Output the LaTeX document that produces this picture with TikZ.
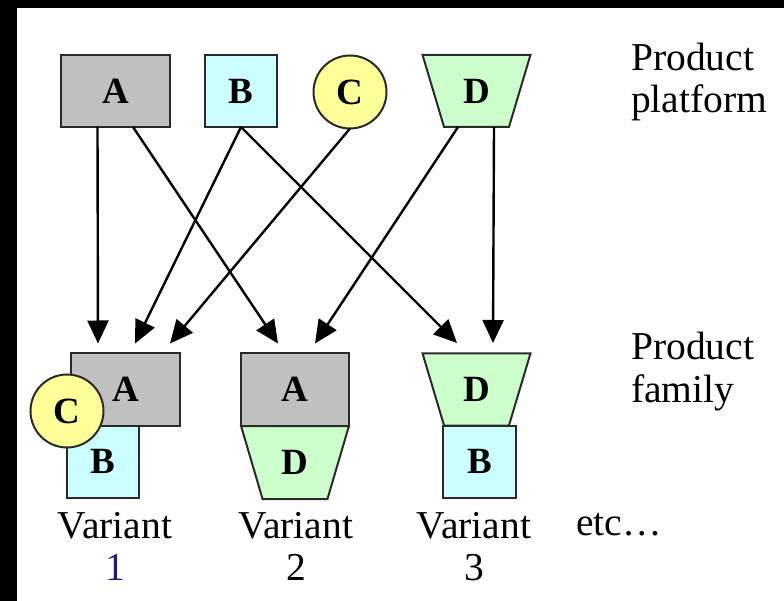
\documentclass[tikz,border=0pt]{standalone}
\usepackage{fontspec}
\setmainfont{Liberation Serif}
\usetikzlibrary{arrows.meta,shapes.geometric,calc}
\definecolor{greyA}{HTML}{C0C0C0}
\definecolor{cyanB}{HTML}{CCFFFF}
\definecolor{yellowC}{HTML}{FFFF99}
\definecolor{greenD}{HTML}{CCFFCC}
\definecolor{edge}{HTML}{2A2A2A}
\definecolor{navy}{RGB}{30,30,110}
\begin{document}
\begin{tikzpicture}[x=1pt,y=-1pt,
  shp/.style={draw=edge,line width=2pt,inner sep=0pt,outer sep=0pt,
    font=\fontsize{37}{40}\selectfont\bfseries},
  abox/.style={shp,fill=greyA,rectangle,minimum width=109pt,minimum height=72pt},
  bbox/.style={shp,fill=cyanB,rectangle,minimum width=72pt,minimum height=72pt},
  cball/.style={shp,fill=yellowC,circle,minimum size=73pt},
  dtrap/.style={shp,fill=greenD,trapezium,shape border rotate=180,
    trapezium angle=70,trapezium stretches=true,minimum width=108pt,minimum height=72pt},
  conn/.style={line width=2.4pt,-{Triangle[length=23pt,width=21pt]}},
  lbl/.style={inner sep=0pt,font=\fontsize{39.5}{42.5}\selectfont}]
\fill[black] (0,0) rectangle (784,601);
\fill[white] (17,8) rectangle (784,601);
\useasboundingbox (0,0) rectangle (784,601);
% product platform
\node[abox] (tA) at (115.5,91) {A};
\node[bbox] (tB) at (241,91) {B};
\node[cball] (tC) at (350,92) {C};
\node[dtrap] (tD) at (476.5,91) {D};
% variant 1
\node[abox] (v1A) at (125.5,389.5) {A};
\node[bbox,minimum width=72.5pt,minimum height=71.5pt] (v1B) at (102.75,461.75) {B};
\node[cball] (v1C) at (67,411) {C};
% variant 2
\node[abox,minimum width=108pt] (v2A) at (295,389.5) {A};
\node[dtrap,minimum height=73pt] (v2D) at (295,462.5) {D};
% variant 3
\node[dtrap] (v3D) at (476.5,389.5) {D};
\node[bbox,minimum width=73pt,minimum height=71.5pt] (v3B) at (479.5,461.75) {B};
% connectors
\draw[conn] ($(tA.south)+(-18,0)$) -- ($(v1A.north)+(-27.5,-10)$);
\draw[conn] ($(tA.south)+(17.5,0)$) -- ($(v2A.north)+(-17,-10)$);
\draw[conn] (tB.south) -- ($(v1A.north)+(9.5,-10)$);
\draw[conn] (tB.south) -- ($(v3D.center)+(-19.5,-46.5)$);
\draw[conn] (tC.south) -- ($(v1A.north)+(44.5,-10)$);
\draw[conn] ($(tD.center)+(-18.5,36)$) -- ($(v2A.north)+(20,-10)$);
\draw[conn] ($(tD.center)+(17.5,36)$) -- ($(v3D.center)+(16.5,-46.5)$);
% labels
\node[lbl,anchor=north west,align=left] (plat) at (631,42.5) {Product\\platform};
\node[lbl,anchor=north west,align=left] (fam) at (631,332) {Product\\family};
\node[lbl,anchor=north,align=center] (var1) at (115,512) {Variant\\\textcolor{navy}{1}};
\node[lbl,anchor=north,align=center] (var2) at (296,512) {Variant\\2};
\node[lbl,anchor=north,align=center] (var3) at (474,512) {Variant\\3};
\node[lbl,anchor=base west] (etc) at (576,535) {etc…};
\end{tikzpicture}
\end{document}
